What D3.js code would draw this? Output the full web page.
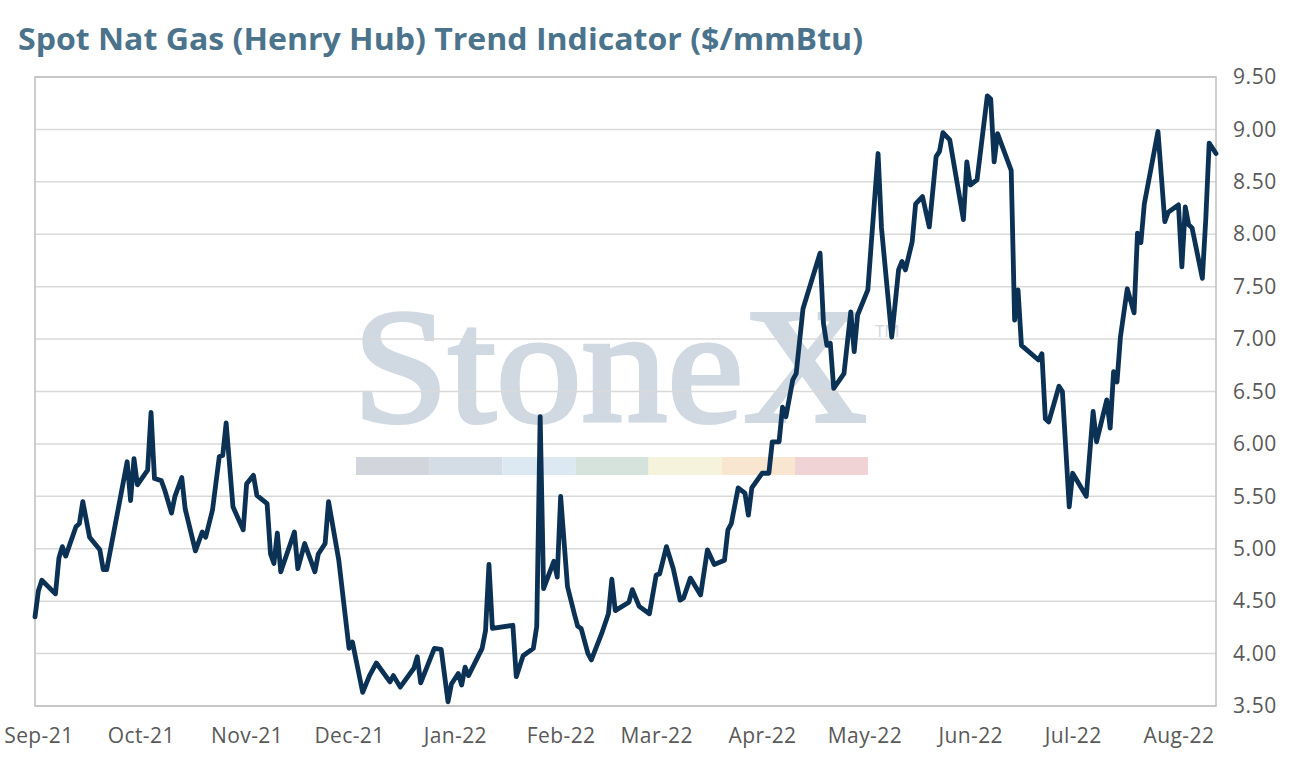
<!DOCTYPE html>
<html>
<head>
<meta charset="utf-8">
<script src="https://cdn.jsdelivr.net/npm/d3@7"></script>
<style>
  body { margin: 0; background: #fff; }
  svg { display: block; }
  .tick text { font-family: "Open Sans", Lato, sans-serif; fill: #595959; }
</style>
</head>
<body>
<div id="chart"></div>
<script>
// spot prices ($/mmBtu)
var dates = [
  "2021-08-31","2021-09-01","2021-09-02","2021-09-06","2021-09-07","2021-09-08","2021-09-09","2021-09-12",
  "2021-09-13","2021-09-14","2021-09-16","2021-09-19","2021-09-20","2021-09-21","2021-09-27","2021-09-28",
  "2021-09-29","2021-09-30","2021-10-03","2021-10-04","2021-10-05","2021-10-07","2021-10-08","2021-10-10",
  "2021-10-11","2021-10-13","2021-10-14","2021-10-17","2021-10-19","2021-10-20","2021-10-22","2021-10-24",
  "2021-10-25","2021-10-26","2021-10-28","2021-10-31","2021-11-01","2021-11-03","2021-11-04","2021-11-07",
  "2021-11-08","2021-11-09","2021-11-10","2021-11-11","2021-11-15","2021-11-16","2021-11-18","2021-11-21",
  "2021-11-22","2021-11-24","2021-11-25","2021-11-28","2021-12-01","2021-12-02","2021-12-05","2021-12-07",
  "2021-12-09","2021-12-13","2021-12-14","2021-12-16","2021-12-20","2021-12-21","2021-12-22","2021-12-26",
  "2021-12-28","2021-12-30","2021-12-31","2022-01-02","2022-01-03","2022-01-04","2022-01-05","2022-01-09",
  "2022-01-10","2022-01-11","2022-01-12","2022-01-18","2022-01-19","2022-01-21","2022-01-24","2022-01-25",
  "2022-01-26","2022-01-27","2022-01-30","2022-01-31","2022-02-01","2022-02-03","2022-02-05","2022-02-06",
  "2022-02-07","2022-02-09","2022-02-10","2022-02-13","2022-02-15","2022-02-16","2022-02-17","2022-02-21",
  "2022-02-22","2022-02-24","2022-02-27","2022-03-01","2022-03-02","2022-03-04","2022-03-06","2022-03-08",
  "2022-03-09","2022-03-11","2022-03-14","2022-03-16","2022-03-18","2022-03-21","2022-03-22","2022-03-23",
  "2022-03-25","2022-03-27","2022-03-28","2022-03-29","2022-04-01","2022-04-03","2022-04-04","2022-04-06",
  "2022-04-07","2022-04-08","2022-04-10","2022-04-11","2022-04-13","2022-04-18","2022-04-19","2022-04-20",
  "2022-04-21","2022-04-22","2022-04-25","2022-04-27","2022-04-28","2022-04-29","2022-05-02","2022-05-03",
  "2022-05-05","2022-05-06","2022-05-09","2022-05-11","2022-05-12","2022-05-13","2022-05-15","2022-05-16",
  "2022-05-18","2022-05-20","2022-05-22","2022-05-23","2022-05-24","2022-05-26","2022-05-30","2022-05-31",
  "2022-06-01","2022-06-03","2022-06-06","2022-06-07","2022-06-08","2022-06-09","2022-06-13","2022-06-14",
  "2022-06-15","2022-06-16","2022-06-21","2022-06-22","2022-06-23","2022-06-24","2022-06-27","2022-06-28",
  "2022-06-30","2022-07-01","2022-07-05","2022-07-07","2022-07-08","2022-07-11","2022-07-12","2022-07-13",
  "2022-07-14","2022-07-15","2022-07-17","2022-07-19","2022-07-20","2022-07-21","2022-07-22","2022-07-26",
  "2022-07-28","2022-07-29","2022-08-01","2022-08-02","2022-08-03","2022-08-04","2022-08-05","2022-08-08",
  "2022-08-09","2022-08-10","2022-08-12"
];
var prices = [
  4.35,4.60,4.70,4.57,4.91,5.02,4.93,5.21,
  5.24,5.45,5.11,4.99,4.80,4.80,5.83,5.46,
  5.86,5.61,5.75,6.30,5.67,5.65,5.56,5.34,
  5.50,5.68,5.38,4.98,5.16,5.11,5.37,5.88,
  5.89,6.20,5.40,5.18,5.62,5.70,5.51,5.43,
  4.95,4.86,5.15,4.78,5.16,4.81,5.05,4.78,
  4.95,5.05,5.45,4.89,4.05,4.11,3.63,3.79,
  3.91,3.73,3.79,3.68,3.86,3.97,3.72,4.05,
  4.04,3.54,3.71,3.81,3.70,3.87,3.79,4.05,
  4.22,4.85,4.24,4.27,3.78,3.98,4.05,4.26,
  6.26,4.62,4.88,4.73,5.50,4.64,4.38,4.26,
  4.24,4.00,3.94,4.19,4.38,4.71,4.41,4.49,
  4.61,4.45,4.38,4.75,4.76,5.02,4.81,4.51,
  4.53,4.72,4.56,4.99,4.85,4.89,5.18,5.24,
  5.58,5.53,5.32,5.58,5.72,5.72,6.02,6.02,
  6.35,6.26,6.61,6.67,7.29,7.82,7.15,6.94,
  6.96,6.53,6.67,7.26,6.88,7.23,7.47,7.91,
  8.77,8.06,7.02,7.66,7.74,7.66,7.93,8.29,
  8.36,8.07,8.74,8.79,8.97,8.90,8.14,8.69,
  8.47,8.52,9.32,9.29,8.69,8.96,8.61,7.18,
  7.47,6.94,6.80,6.86,6.24,6.21,6.55,6.50,
  5.40,5.72,5.50,6.31,6.02,6.42,6.15,6.69,
  6.59,7.02,7.48,7.25,8.01,7.92,8.29,8.98,
  8.12,8.21,8.28,7.69,8.26,8.09,8.06,7.58,
  8.14,8.87,8.77
];
var yTicks = [3.5, 4.0, 4.5, 5.0, 5.5, 6.0, 6.5, 7.0, 7.5, 8.0, 8.5, 9.0, 9.5];
var monthTicks = ["2021-09-01","2021-10-01","2021-11-01","2021-12-01","2022-01-01","2022-02-01",
  "2022-03-01","2022-04-01","2022-05-01","2022-06-01","2022-07-01","2022-08-01"];
var bandColors = ["#d2d6dc","#d4dce6","#dde9f2","#d5e3dc","#f6f3dc","#f8e6d0","#f0d4d5"];

var W = 1293, H = 768;
var margin = {top: 77, right: 77, bottom: 62, left: 35};
var width = W - margin.left - margin.right,
    height = H - margin.top - margin.bottom;
var parse = d3.timeParse("%Y-%m-%d");

var svg = d3.select("#chart").append("svg")
  .attr("width", W).attr("height", H);

svg.append("text")
  .attr("x", 18).attr("y", 50)
  .attr("textLength", 845)
  .attr("lengthAdjust", "spacingAndGlyphs")
  .style("font-family", "'Open Sans', Lato, sans-serif")
  .style("font-weight", "bold")
  .style("font-size", "30px")
  .attr("fill", "#4b738c")
  .text("Spot Nat Gas (Henry Hub) Trend Indicator ($/mmBtu)");

var g = svg.append("g")
  .attr("transform", "translate(" + margin.left + "," + margin.top + ")");

var x = d3.scaleTime()
  .domain([new Date(2021, 7, 31), new Date(2022, 7, 12)])
  .range([0, width]);
var y = d3.scaleLinear()
  .domain([3.5, 9.5])
  .range([height, 0]);

// watermark behind everything
var wm = g.append("g").attr("class", "watermark");
wm.append("text")
  .attr("x", 318).attr("y", 344)
  .attr("textLength", 514)
  .attr("lengthAdjust", "spacingAndGlyphs")
  .style("font-family", "'Liberation Serif', 'DejaVu Serif', serif")
  .style("font-size", "164px")
  .attr("fill", "#d0d8e1")
  .attr("stroke", "#d0d8e1")
  .attr("stroke-width", 4)
  .text("StoneX");
wm.append("text")
  .attr("x", 840).attr("y", 260)
  .style("font-family", "'Open Sans', sans-serif")
  .style("font-size", "17px")
  .attr("fill", "#d0d8e1")
  .text("TM");
var bandX = d3.scaleBand().domain(d3.range(bandColors.length)).range([321, 833]);
wm.selectAll("rect.band").data(bandColors).enter().append("rect")
  .attr("class", "band")
  .attr("x", function (d, i) { return bandX(i); })
  .attr("y", 380)
  .attr("width", bandX.bandwidth())
  .attr("height", 18)
  .attr("fill", function (d) { return d; });

// gridlines
g.selectAll("line.grid").data(yTicks).enter().append("line")
  .attr("class", "grid")
  .attr("x1", 0).attr("x2", width)
  .attr("y1", function (d) { return y(d); })
  .attr("y2", function (d) { return y(d); })
  .attr("stroke", "#d9d9d9")
  .attr("stroke-width", 1.5);

// plot frame
g.append("rect")
  .attr("width", width).attr("height", height)
  .attr("fill", "none")
  .attr("stroke", "#bfbfbf")
  .attr("stroke-width", 1.5);

var yAxis = d3.axisRight(y)
  .tickValues(yTicks)
  .tickFormat(d3.format(".2f"))
  .tickSize(0)
  .tickPadding(17);
g.append("g")
  .attr("transform", "translate(" + width + ",0)")
  .call(yAxis)
  .call(function (s) { s.select(".domain").remove(); })
  .selectAll("text").style("font-size", "21px").style("letter-spacing", "0.6px");

var xAxis = d3.axisBottom(x)
  .tickValues(monthTicks.map(parse))
  .tickFormat(d3.timeFormat("%b-%y"))
  .tickSize(0)
  .tickPadding(22);
g.append("g")
  .attr("transform", "translate(0," + height + ")")
  .call(xAxis)
  .call(function (s) { s.select(".domain").remove(); })
  .selectAll("text").style("font-size", "21px").style("letter-spacing", "0.4px");

var data = dates.map(function (d, i) { return {date: parse(d), value: prices[i]}; });
var line = d3.line()
  .x(function (d) { return x(d.date); })
  .y(function (d) { return y(d.value); });

g.append("path")
  .datum(data)
  .attr("d", line)
  .attr("fill", "none")
  .attr("stroke", "#0b3154")
  .attr("stroke-width", 4.8)
  .attr("stroke-linejoin", "round")
  .attr("stroke-linecap", "round");
</script>
</body>
</html>
